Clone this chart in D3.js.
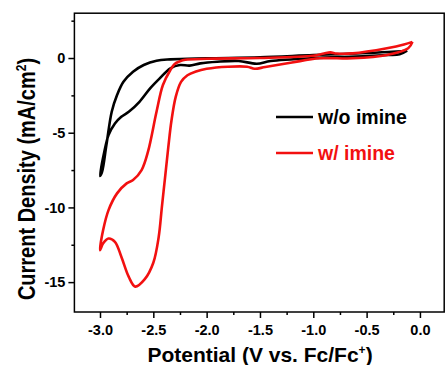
<html lang="en">
<head>
  <meta charset="UTF-8"/>
  <title>CV with and without imine</title>
  <script src="https://d3js.org/d3.v7.min.js"></script>
  <style>
    body { margin: 0; background: #ffffff; }
    text { font-family: Arial, "Liberation Sans", sans-serif; font-weight: bold; }
  </style>
</head>
<body>
<svg id="chart" width="446" height="365"></svg>
<script>
// w/o imine loop: potential (V vs Fc/Fc+) and current density (mA/cm2)
const woImineV = [-0.12, -0.3, -0.6, -1.0, -1.5, -2.0, -2.34, -2.47, -2.59, -2.69, -2.78, -2.84, -2.89, -2.94, -2.98, -3.0,
  -2.96, -2.92, -2.86, -2.8, -2.73, -2.63, -2.53, -2.44, -2.34, -2.25, -2.16, -2.06, -1.9, -1.7, -1.53, -1.4, -1.0, -0.6, -0.3, -0.19, -0.12];
const woImineJ = [0.49, 0.4, 0.3, 0.2, 0.05, -0.02, -0.09, -0.18, -0.47, -0.92, -1.59, -2.48, -3.6, -5.83, -7.6, -7.9,
  -6.3, -5.16, -4.38, -3.93, -3.6, -2.93, -2.03, -1.36, -0.69, -0.47, -0.51, -0.36, -0.25, -0.2, -0.38, -0.2, 0.0, 0.1, 0.2, 0.25, 0.49];

// w/ imine loop
const wImineV = [-0.07, -0.15, -0.31, -0.63, -0.78, -0.84, -0.9, -1.0, -1.5, -2.0, -2.2, -2.25, -2.3, -2.34, -2.41, -2.47, -2.55, -2.61, -2.69, -2.75, -2.84, -2.92, -2.97, -3.0,
  -2.97, -2.92, -2.86, -2.8, -2.73, -2.67, -2.58, -2.5, -2.45, -2.42, -2.39, -2.36, -2.33, -2.29, -2.24, -2.18, -2.1, -2.0, -1.8, -1.62, -1.55, -1.45, -1.2, -0.94, -0.63, -0.31, -0.11, -0.07];
const wImineJ = [1.08, 0.9, 0.65, 0.31, 0.3, 0.38, 0.3, 0.15, 0.0, -0.05, -0.12, -0.22, -0.4, -0.8, -1.81, -3.6, -6.27, -7.5, -8.17, -8.39, -9.06, -10.18, -11.5, -12.86,
  -12.4, -12.08, -12.3, -13.3, -14.65, -15.3, -14.8, -13.7, -12.0, -10.0, -8.0, -6.0, -4.2, -2.6, -1.6, -1.15, -0.9, -0.72, -0.58, -0.58, -0.72, -0.6, -0.3, -0.02, -0.02, 0.2, 0.65, 1.08];

const xMajor = [-3.0, -2.5, -2.0, -1.5, -1.0, -0.5, 0.0];
const xMinor = [-2.75, -2.25, -1.75, -1.25, -0.75, -0.25];
const yMajor = [0, -5, -10, -15];
const yMinor = [2.5, -2.5, -7.5, -12.5];
const seriesNames = ["w/o imine", "w/ imine"];
const seriesColors = ["#000000", "#f21010"];

const svg = d3.select("#chart");
const plotLeft = 74.4, plotRight = 445, plotTop = 13.2, plotBottom = 312;

const x = d3.scaleLinear().domain([-3.24, 0.235]).range([plotLeft, plotRight]);
const y = d3.scaleLinear().domain([-17, 3]).range([plotBottom, plotTop]);

// frame
svg.append("rect")
  .attr("x", plotLeft).attr("y", plotTop)
  .attr("width", plotRight - plotLeft - 0.8).attr("height", plotBottom - plotTop)
  .attr("fill", "none").attr("stroke", "#000").attr("stroke-width", 1.5);

// axes
const xAxis = svg.append("g").attr("transform", `translate(0,${plotBottom})`)
  .call(d3.axisBottom(x).tickValues(xMajor).tickSize(6).tickPadding(7).tickFormat(d3.format(".1f")));
svg.append("g").attr("transform", `translate(0,${plotBottom})`)
  .call(d3.axisBottom(x).tickValues(xMinor).tickSize(3).tickFormat(""));
const yAxis = svg.append("g").attr("transform", `translate(${plotLeft},0)`)
  .call(d3.axisLeft(y).tickValues(yMajor).tickSize(6).tickPadding(3).tickFormat(d3.format("d")));
svg.append("g").attr("transform", `translate(${plotLeft},0)`)
  .call(d3.axisLeft(y).tickValues(yMinor).tickSize(3).tickFormat(""));

svg.selectAll(".domain").remove();
svg.selectAll(".tick line").attr("stroke", "#000").attr("stroke-width", 1.5);
svg.selectAll(".tick text")
  .attr("fill", "#000")
  .style("font-family", "Arial, 'Liberation Sans', sans-serif")
  .style("font-weight", "bold")
  .style("font-size", "14.5px");
xAxis.selectAll(".tick text").text(d => d3.format(".1f")(d).replace("−", "-"));
yAxis.selectAll(".tick text").text(d => String(d));

// curves
const line = d3.line()
  .x(d => x(d[0]))
  .y(d => y(d[1]))
  .curve(d3.curveCatmullRom.alpha(0.5));

const woData = woImineV.map((v, i) => [v, woImineJ[i]]);
const wData = wImineV.map((v, i) => [v, wImineJ[i]]);

svg.append("path").datum(woData)
  .attr("d", line).attr("fill", "none")
  .attr("stroke", seriesColors[0]).attr("stroke-width", 2.6).attr("stroke-linejoin", "round");
svg.append("path").datum(wData)
  .attr("d", line).attr("fill", "none")
  .attr("stroke", seriesColors[1]).attr("stroke-width", 2.6).attr("stroke-linejoin", "round");

// legend
const legendY = [117, 153];
seriesNames.forEach((name, i) => {
  svg.append("line")
    .attr("x1", 276).attr("x2", 313)
    .attr("y1", legendY[i]).attr("y2", legendY[i])
    .attr("stroke", seriesColors[i]).attr("stroke-width", 2.6);
  svg.append("text")
    .attr("x", 318).attr("y", legendY[i] + 6.5)
    .attr("fill", seriesColors[i])
    .style("font-size", "19.5px")
    .text(name);
});

// axis titles
const xt = svg.append("text")
  .attr("x", 260).attr("y", 362)
  .attr("text-anchor", "middle")
  .style("font-size", "21px")
  .text("Potential (V vs. Fc/Fc");
xt.append("tspan").attr("dy", -8).style("font-size", "12px").text("+");
xt.append("tspan").attr("dy", 8).text(")");

const yt = svg.append("text")
  .attr("transform", "translate(35,179) rotate(-90) scale(1,1.15)")
  .attr("text-anchor", "middle")
  .style("font-size", "20px")
  .text("Current Density (mA/cm");
yt.append("tspan").attr("dy", -8).style("font-size", "12px").text("2");
yt.append("tspan").attr("dy", 8).text(")");
</script>
</body>
</html>
